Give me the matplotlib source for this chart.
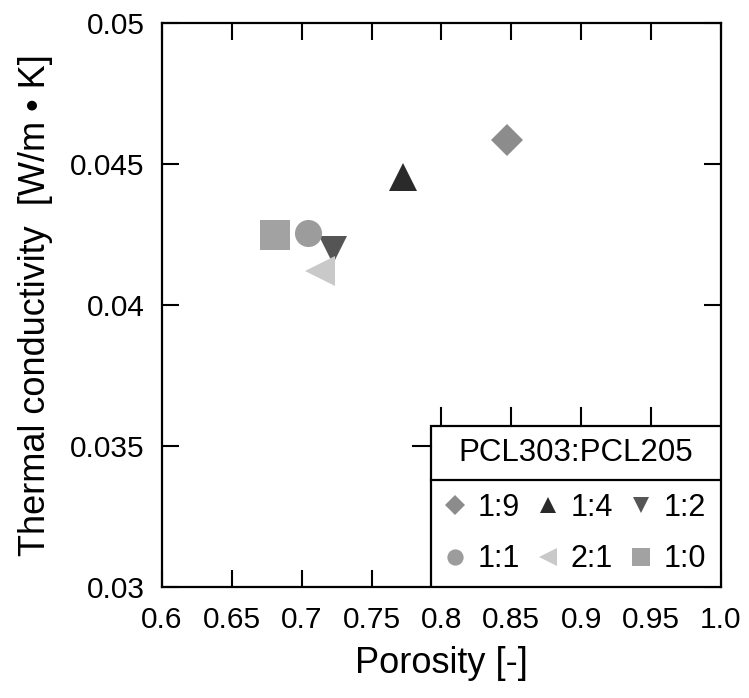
import matplotlib
matplotlib.use("Agg")
import matplotlib.pyplot as plt
from matplotlib.patches import Rectangle

plt.rcParams['font.family'] = ['Liberation Sans', 'DejaVu Sans']

# data
ratios = ['1:9', '1:4', '1:2', '1:1', '2:1', '1:0']
porosity = [0.847, 0.7725, 0.7224, 0.7045, 0.7131, 0.6809]
conductivity = [0.04585, 0.04454, 0.04195, 0.04255, 0.04121, 0.04248]
markers = ['D', '^', 'v', 'o', '<', 's']
colors = ['#8c8c8c', '#2a2a2a', '#555555', '#9c9c9c', '#c9c9c9', '#a2a2a2']
sizes = [16.5, 20, 19.5, 19.5, 21, 21]

xticks = [0.6, 0.65, 0.7, 0.75, 0.8, 0.85, 0.9, 0.95, 1.0]
xticklabels = ['0.6', '0.65', '0.7', '0.75', '0.8', '0.85', '0.9', '0.95', '1.0']
yticks = [0.03, 0.035, 0.04, 0.045, 0.05]
yticklabels = ['0.03', '0.035', '0.04', '0.045', '0.05']

fig = plt.figure(figsize=(7.49, 6.98), dpi=100)
ax = fig.add_axes([0.2163, 0.159, 0.7463, 0.808])

handles = {}
for x, y, m, c, s, lab in zip(porosity, conductivity, markers, colors, sizes, ratios):
    h, = ax.plot([x], [y], linestyle='none', marker=m, color=c, markersize=s,
                 markeredgewidth=0, label=lab)
    handles[lab] = h

ax.set_xlim(0.6, 1.0)
ax.set_ylim(0.03, 0.05)
ax.set_xticks(xticks)
ax.set_xticklabels(xticklabels)
ax.set_yticks(yticks)
ax.set_yticklabels(yticklabels)
ax.tick_params(direction='in', length=12.5, width=1.5, top=True, right=True,
               labelsize=21.5)
ax.tick_params(axis='x', pad=14)
ax.tick_params(axis='y', pad=12.5)
for sp in ax.spines.values():
    sp.set_linewidth(1.6)

ax.set_xlabel('Porosity [-]', fontsize=26, labelpad=8)
ax.set_ylabel('Thermal conductivity  [W/m \u2022 K]', fontsize=26, labelpad=12)

# legend box in the lower right corner: title cell on top, entries below
lx0 = 0.481
ly_sep, ly1 = 0.1897, 0.2855
ax.add_patch(Rectangle((lx0, 0), 1 - lx0, ly1, transform=ax.transAxes,
                       facecolor='white', edgecolor='black', linewidth=1.6,
                       zorder=6))
ax.plot([lx0, 1], [ly_sep, ly_sep], transform=ax.transAxes, color='black',
        linewidth=1.6, zorder=7)
ax.text((lx0 + 1) / 2, (ly_sep + ly1) / 2, 'PCL303:PCL205',
        transform=ax.transAxes, ha='center', va='center', fontsize=22.5,
        zorder=8)

# tick stubs sticking out of the legend box, as in the original figure
tick_len = 0.032
for xt in xticks[4:8]:
    xa = (xt - 0.6) / 0.4
    ax.plot([xa, xa], [ly1, ly1 + tick_len], transform=ax.transAxes,
            color='black', linewidth=1.5, zorder=7)
ya = (0.035 - 0.03) / 0.02
ax.plot([lx0 - tick_len * 564 / 559, lx0], [ya, ya], transform=ax.transAxes,
        color='black', linewidth=1.5, zorder=7)

order = ['1:9', '1:1', '1:4', '2:1', '1:2', '1:0']
leg = ax.legend(handles=[handles[k] for k in order], ncol=3, loc='center',
                bbox_to_anchor=(lx0, 0, 1 - lx0, ly_sep),
                fontsize=22, markerscale=0.6, handlelength=0.6,
                handletextpad=0.45, columnspacing=0.6, borderaxespad=0,
                borderpad=0.2, labelspacing=0.7, frameon=False)
leg.set_zorder(9)

fig.savefig('out.png', dpi=100)
